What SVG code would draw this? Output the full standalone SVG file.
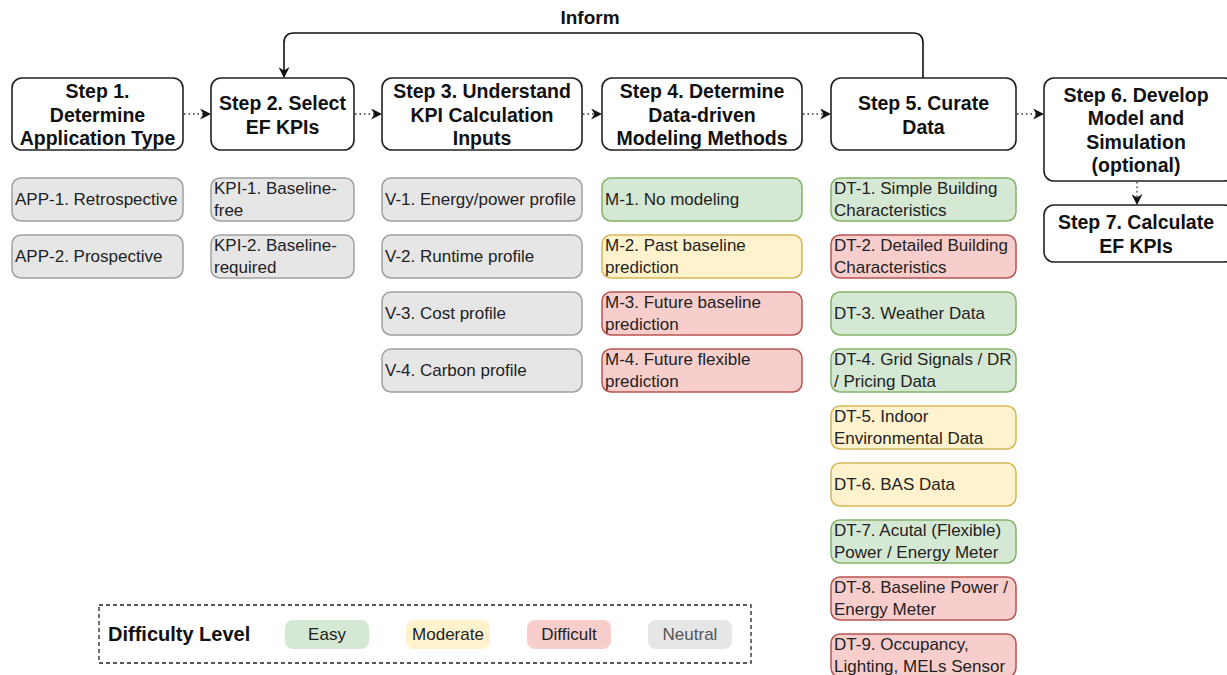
<svg xmlns="http://www.w3.org/2000/svg" width="1227" height="675" viewBox="0 0 1227 675">
<defs>
<marker id="ah" viewBox="0 0 10 10" refX="9" refY="5" markerWidth="11" markerHeight="11" markerUnits="userSpaceOnUse" orient="auto">
<path d="M0,0 L10,5 L0,10 L3,5 Z" fill="#111"/>
</marker>
<style>
.step rect{fill:#fff;stroke:#222;stroke-width:1.6}
.step text{font-family:"Liberation Sans",Arial,sans-serif;font-weight:bold;font-size:19.5px;fill:#111;text-anchor:middle}
.sub text{font-family:"Liberation Sans",Arial,sans-serif;font-size:17px;fill:#222}
.g rect{fill:#d5e8d4;stroke:#82b366;stroke-width:1.5}
.y rect{fill:#fff2cc;stroke:#d6b656;stroke-width:1.5}
.r rect{fill:#f8cecc;stroke:#b85450;stroke-width:1.5}
.n rect{fill:#e6e6e6;stroke:#a0a0a0;stroke-width:1.5}
.dot{fill:none;stroke:#333;stroke-width:1.3;stroke-dasharray:1.5 3}
.lg text{font-family:"Liberation Sans",Arial,sans-serif;font-size:17px;fill:#222;text-anchor:middle}
.lg text.title{font-size:20px;font-weight:bold;text-anchor:start;fill:#111}
</style>
</defs>
<rect width="1227" height="675" fill="#fff"/>

<g id="connectors">
<path d="M923,78 V43 Q923,33 913,33 H294 Q284,33 284,43 V77" fill="none" stroke="#111" stroke-width="1.6" marker-end="url(#ah)"/>
<text x="590" y="24" style="font-family:'Liberation Sans',Arial,sans-serif;font-weight:bold;font-size:19px;text-anchor:middle;fill:#111">Inform</text>
<path class="dot" d="M184,114 H210" marker-end="url(#ah)"/>
<path class="dot" d="M355,114 H381" marker-end="url(#ah)"/>
<path class="dot" d="M583,114 H601" marker-end="url(#ah)"/>
<path class="dot" d="M803,114 H830" marker-end="url(#ah)"/>
<path class="dot" d="M1017,114 H1043" marker-end="url(#ah)"/>
<path class="dot" d="M1137,182 V204" marker-end="url(#ah)"/>
</g>

<g id="step1" class="step"><rect x="12" y="78" width="171" height="72" rx="10"/>
<text x="97.5" y="98">Step 1.</text><text x="97.5" y="122">Determine</text><text x="97.5" y="145">Application Type</text></g>
<g id="step2" class="step"><rect x="211" y="78" width="143" height="72" rx="10"/>
<text x="282.5" y="110">Step 2. Select</text><text x="282.5" y="134">EF KPIs</text></g>
<g id="step3" class="step"><rect x="382" y="78" width="200" height="72" rx="10"/>
<text x="482" y="98">Step 3. Understand</text><text x="482" y="122">KPI Calculation</text><text x="482" y="145">Inputs</text></g>
<g id="step4" class="step"><rect x="602" y="78" width="200" height="72" rx="10"/>
<text x="702" y="98">Step 4. Determine</text><text x="702" y="122">Data-driven</text><text x="702" y="145">Modeling Methods</text></g>
<g id="step5" class="step"><rect x="831" y="78" width="185" height="72" rx="10"/>
<text x="923.5" y="110">Step 5. Curate</text><text x="923.5" y="134">Data</text></g>
<g id="step6" class="step"><rect x="1044" y="78" width="190" height="103" rx="10"/>
<text x="1136" y="102">Step 6. Develop</text><text x="1136" y="125">Model and</text><text x="1136" y="149">Simulation</text><text x="1136" y="172">(optional)</text></g>
<g id="step7" class="step"><rect x="1044" y="205" width="190" height="57" rx="10"/>
<text x="1136" y="229">Step 7. Calculate</text><text x="1136" y="253">EF KPIs</text></g>

<g id="app1" class="sub n"><rect x="12" y="178" width="171" height="43" rx="9"/><text x="15" y="205">APP-1. Retrospective</text></g>
<g id="app2" class="sub n"><rect x="12" y="235" width="171" height="43" rx="9"/><text x="15" y="262">APP-2. Prospective</text></g>

<g id="kpi1" class="sub n"><rect x="211" y="178" width="143" height="43" rx="9"/><text x="214" y="194">KPI-1. Baseline-</text><text x="214" y="216">free</text></g>
<g id="kpi2" class="sub n"><rect x="211" y="235" width="143" height="43" rx="9"/><text x="214" y="251">KPI-2. Baseline-</text><text x="214" y="273">required</text></g>

<g id="v1" class="sub n"><rect x="382" y="178" width="200" height="43" rx="9"/><text x="385" y="205">V-1. Energy/power profile</text></g>
<g id="v2" class="sub n"><rect x="382" y="235" width="200" height="43" rx="9"/><text x="385" y="262">V-2. Runtime profile</text></g>
<g id="v3" class="sub n"><rect x="382" y="292" width="200" height="43" rx="9"/><text x="385" y="319">V-3. Cost profile</text></g>
<g id="v4" class="sub n"><rect x="382" y="349" width="200" height="43" rx="9"/><text x="385" y="376">V-4. Carbon profile</text></g>

<g id="m1" class="sub g"><rect x="602" y="178" width="200" height="43" rx="9"/><text x="605" y="205">M-1. No modeling</text></g>
<g id="m2" class="sub y"><rect x="602" y="235" width="200" height="43" rx="9"/><text x="605" y="251">M-2. Past baseline</text><text x="605" y="273">prediction</text></g>
<g id="m3" class="sub r"><rect x="602" y="292" width="200" height="43" rx="9"/><text x="605" y="308">M-3. Future baseline</text><text x="605" y="330">prediction</text></g>
<g id="m4" class="sub r"><rect x="602" y="349" width="200" height="43" rx="9"/><text x="605" y="365">M-4. Future flexible</text><text x="605" y="387">prediction</text></g>

<g id="dt1" class="sub g"><rect x="831" y="178" width="185" height="43" rx="9"/><text x="834" y="194">DT-1. Simple Building</text><text x="834" y="216">Characteristics</text></g>
<g id="dt2" class="sub r"><rect x="831" y="235" width="185" height="43" rx="9"/><text x="834" y="251">DT-2. Detailed Building</text><text x="834" y="273">Characteristics</text></g>
<g id="dt3" class="sub g"><rect x="831" y="292" width="185" height="43" rx="9"/><text x="834" y="319">DT-3. Weather Data</text></g>
<g id="dt4" class="sub g"><rect x="831" y="349" width="185" height="43" rx="9"/><text x="834" y="365">DT-4. Grid Signals / DR</text><text x="834" y="387">/ Pricing Data</text></g>
<g id="dt5" class="sub y"><rect x="831" y="406" width="185" height="43" rx="9"/><text x="834" y="422">DT-5. Indoor</text><text x="834" y="444">Environmental Data</text></g>
<g id="dt6" class="sub y"><rect x="831" y="463" width="185" height="43" rx="9"/><text x="834" y="490">DT-6. BAS Data</text></g>
<g id="dt7" class="sub g"><rect x="831" y="520" width="185" height="43" rx="9"/><text x="834" y="536">DT-7. Acutal (Flexible)</text><text x="834" y="558">Power / Energy Meter</text></g>
<g id="dt8" class="sub r"><rect x="831" y="577" width="185" height="43" rx="9"/><text x="834" y="593">DT-8. Baseline Power /</text><text x="834" y="615">Energy Meter</text></g>
<g id="dt9" class="sub r"><rect x="831" y="634" width="185" height="43" rx="9"/><text x="834" y="650">DT-9. Occupancy,</text><text x="834" y="672">Lighting, MELs Sensor</text></g>

<g id="legend" class="lg">
<rect x="99" y="605" width="652" height="58" fill="none" stroke="#222" stroke-width="1.3" stroke-dasharray="4 3"/>
<text class="title" x="108" y="641">Difficulty Level</text>
<rect x="285" y="620" width="84" height="29" rx="8" fill="#d5e8d4"/><text x="327" y="640">Easy</text>
<rect x="406" y="620" width="84" height="29" rx="8" fill="#fff2cc"/><text x="448" y="640">Moderate</text>
<rect x="527" y="620" width="84" height="29" rx="8" fill="#f8cecc"/><text x="569" y="640">Difficult</text>
<rect x="648" y="620" width="84" height="29" rx="8" fill="#e6e6e6"/><text x="690" y="640" style="fill:#555">Neutral</text>
</g>
</svg>
